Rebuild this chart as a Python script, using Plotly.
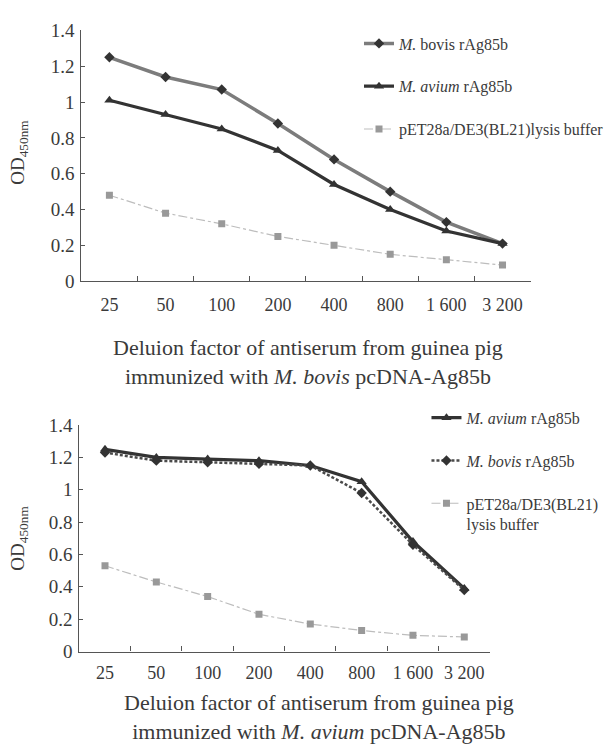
import plotly.graph_objects as go

categories = ["25", "50", "100", "200", "400", "800", "1 600", "3 200"]

# Top panel: antiserum from M. bovis pcDNA-Ag85b immunization
top_bovis = [1.25, 1.14, 1.07, 0.88, 0.68, 0.50, 0.33, 0.21]
top_avium = [1.01, 0.93, 0.85, 0.73, 0.54, 0.40, 0.28, 0.21]
top_buffer = [0.48, 0.38, 0.32, 0.25, 0.20, 0.15, 0.12, 0.09]

# Bottom panel: antiserum from M. avium pcDNA-Ag85b immunization
bot_avium = [1.25, 1.20, 1.19, 1.18, 1.15, 1.05, 0.68, 0.39]
bot_bovis = [1.23, 1.18, 1.17, 1.16, 1.15, 0.98, 0.66, 0.38]
bot_buffer = [0.53, 0.43, 0.34, 0.23, 0.17, 0.13, 0.10, 0.09]

y_ticks = [0, 0.2, 0.4, 0.6, 0.8, 1.0, 1.2, 1.4]
y_ticktext = ["0", "0.2", "0.4", "0.6", "0.8", "1", "1.2", "1.4"]

FONT = "Liberation Serif, Times New Roman, serif"
TXT = "#3a3a3a"
W, H = 609, 751

def px_x(p):
    return p / W

def px_y(p):
    return 1 - p / H

fig = go.Figure()

top_bovis_line = dict(color="#7c7c7c", width=3.5)
bot_bovis_line = dict(color="#4a4a4a", width=2.5, dash="3px,2px")
bovis_marker = dict(symbol="diamond", color="#333333", size=8)
avium_line = dict(color="#333333", width=3.2)
avium_marker = dict(symbol="triangle-up", color="#333333", size=9)
buf_line = dict(color="#bdbdbd", width=1.2, dash="dashdot")
buf_marker = dict(symbol="square", color="#999999", size=7)

# top panel
fig.add_trace(go.Scatter(x=categories, y=top_bovis, mode="lines+markers", name="<i>M.</i> bovis rAg85b",
                         line=top_bovis_line, marker=bovis_marker, xaxis="x", yaxis="y",
                         legend="legend", legendgroup="a"))
fig.add_trace(go.Scatter(x=categories, y=top_avium, mode="lines+markers", name="<i>M. avium</i> rAg85b",
                         line=avium_line, marker=avium_marker, xaxis="x", yaxis="y",
                         legend="legend", legendgroup="b"))
fig.add_trace(go.Scatter(x=categories, y=top_buffer, mode="lines+markers", name="pET28a/DE3(BL21)lysis buffer",
                         line=buf_line, marker=buf_marker, xaxis="x", yaxis="y",
                         legend="legend", legendgroup="c"))

# bottom panel
fig.add_trace(go.Scatter(x=categories, y=bot_avium, mode="lines+markers", name="<i>M. avium</i> rAg85b",
                         line=avium_line, marker=avium_marker, xaxis="x2", yaxis="y2",
                         legend="legend2", legendgroup="d"))
fig.add_trace(go.Scatter(x=categories, y=bot_bovis, mode="lines+markers", name="<i>M. bovis</i> rAg85b",
                         line=bot_bovis_line, marker=bovis_marker,
                         xaxis="x2", yaxis="y2", legend="legend2", legendgroup="e"))
fig.add_trace(go.Scatter(x=categories, y=bot_buffer, mode="lines+markers",
                         name="pET28a/DE3(BL21)<br>lysis buffer",
                         line=buf_line, marker=buf_marker, xaxis="x2", yaxis="y2",
                         legend="legend2", legendgroup="f"))

xcommon = dict(type="category", range=[-0.5, 7.5], showline=True, linecolor="#555555", linewidth=1.2,
               ticks="inside", ticklen=5, tickcolor="#555555", tickson="boundaries",
               showgrid=False, zeroline=False, tickfont=dict(family=FONT, size=18, color=TXT))
ycommon = dict(range=[0, 1.4], tickvals=y_ticks, ticktext=y_ticktext, showline=True, linecolor="#555555",
               linewidth=1.2, ticks="inside", ticklen=4, tickcolor="#555555", showgrid=False, zeroline=False,
               tickfont=dict(family=FONT, size=19, color=TXT), ticklabelstandoff=2)

legcommon = dict(font=dict(family=FONT, size=16, color=TXT), bgcolor="rgba(0,0,0,0)",
                 tracegroupgap=19, itemwidth=30, xanchor="left", yanchor="top", valign="top")

fig.update_layout(
    width=W, height=H, margin=dict(l=0, r=0, t=0, b=0),
    paper_bgcolor="white", plot_bgcolor="white",
    xaxis=dict(domain=[px_x(82), px_x(535)], anchor="y", ticklabelstandoff=7, **xcommon),
    yaxis=dict(domain=[px_y(279), px_y(21)], anchor="x", **ycommon),
    xaxis2=dict(domain=[px_x(80), px_x(494)], anchor="y2", ticklabelstandoff=5, **xcommon),
    yaxis2=dict(domain=[px_y(660), px_y(427)], anchor="x2", **ycommon),
    legend=dict(x=px_x(362), y=px_y(17), **legcommon),
    legend2=dict(x=px_x(430), y=px_y(402), **legcommon),
    showlegend=True,
)

annotations = [
    dict(text="Deluion factor of antiserum from guinea pig<br>immunized with <i>M. bovis</i> pcDNA-Ag85b",
         x=px_x(311), y=px_y(362), xref="paper", yref="paper", showarrow=False,
         xanchor="center", yanchor="middle",
         font=dict(family=FONT, size=22, color=TXT), align="center"),
    dict(text="Deluion factor of antiserum from guinea pig<br>immunized with <i>M. avium</i> pcDNA-Ag85b",
         x=px_x(322), y=px_y(727), xref="paper", yref="paper", showarrow=False,
         xanchor="center", yanchor="middle",
         font=dict(family=FONT, size=22, color=TXT), align="center"),
    dict(text="OD<sub>450nm</sub>", textangle=-90, x=px_x(19), y=px_y(146), xref="paper", yref="paper",
         xanchor="center", yanchor="middle",
         showarrow=False, font=dict(family=FONT, size=19, color=TXT)),
    dict(text="OD<sub>450nm</sub>", textangle=-90, x=px_x(19), y=px_y(543), xref="paper", yref="paper",
         xanchor="center", yanchor="middle",
         showarrow=False, font=dict(family=FONT, size=19, color=TXT)),
]
fig.update_layout(annotations=annotations)

fig.write_html("out.html")
